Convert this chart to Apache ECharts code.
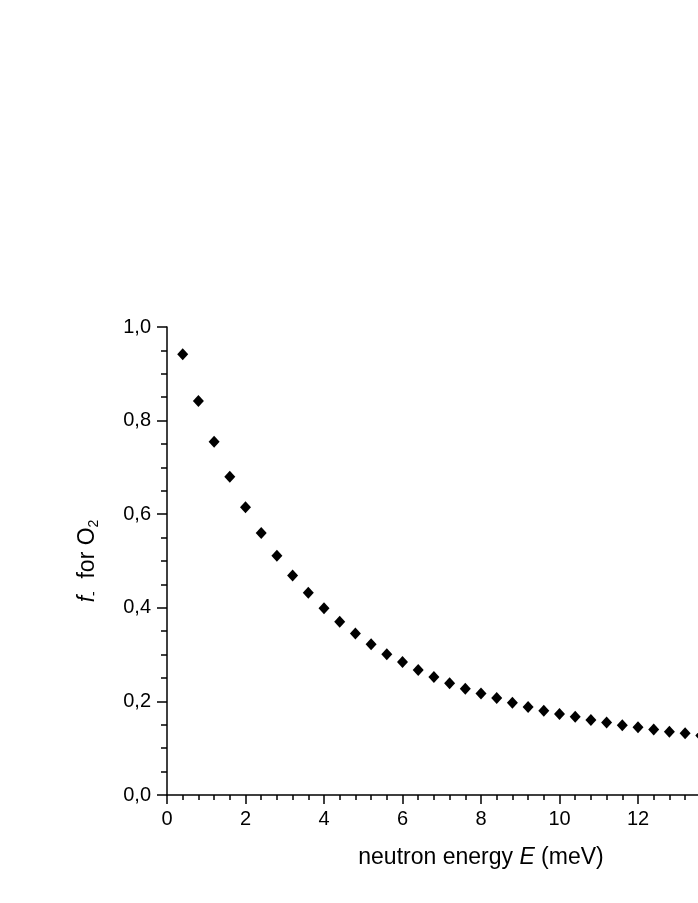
<!DOCTYPE html>
<html>
<head>
<meta charset="utf-8">
<script src="https://cdn.jsdelivr.net/npm/echarts@6/dist/echarts.min.js"></script>
<style>html,body{margin:0;padding:0;background:#fff;}#c{width:698px;height:903px;}</style>
</head>
<body>
<div id="c"></div>
<script>
const energies = [0.4,0.8,1.2,1.6,2.0,2.4,2.8,3.2,3.6,4.0,4.4,4.8,5.2,5.6,6.0,6.4,6.8,7.2,7.6,8.0,8.4,8.8,9.2,9.6,10.0,10.4,10.8,11.2,11.6,12.0,12.4,12.8,13.2,13.6];
const fMinus = [0.942,0.842,0.755,0.680,0.615,0.560,0.511,0.469,0.432,0.399,0.370,0.345,0.322,0.301,0.284,0.267,0.252,0.239,0.227,0.217,0.207,0.197,0.188,0.180,0.173,0.167,0.160,0.155,0.149,0.145,0.140,0.135,0.132,0.127];
const xTicks = [0,2,4,6,8,10,12,14,16];
const yTicks = [0,0.2,0.4,0.6,0.8,1.0];

const chart = echarts.init(document.getElementById('c'), null, {renderer:'canvas'});
const font = 'Liberation Sans, Arial, sans-serif';
chart.setOption({
  animation:false,
  backgroundColor:'#fff',
  grid:{left:167, top:327, width:628, height:468, containLabel:false, outerBoundsMode:'none'},
  xAxis:{
    type:'value', min:0, max:16, interval:2,
    name:'neutron energy {i|E} (meV)',
    nameLocation:'middle', nameGap:51,
    nameTextStyle:{fontFamily:font, fontSize:23, color:'#000',
      rich:{i:{fontStyle:'italic', fontFamily:font, fontSize:23, color:'#000'}}},
    axisLine:{show:true, lineStyle:{color:'#000', width:1.5}},
    axisTick:{show:true, inside:false, length:9, lineStyle:{color:'#000', width:1.5}},
    minorTick:{show:true, splitNumber:5, length:5, lineStyle:{color:'#000', width:1.5}},
    axisLabel:{fontFamily:font, fontSize:20, color:'#000', margin:14},
    splitLine:{show:false}
  },
  yAxis:{
    type:'value', min:0, max:1, interval:0.2,
    name:'{i|f}{sub|-}  for O{sub|2}',
    nameLocation:'middle', nameGap:66, nameRotate:90,
    nameTextStyle:{fontFamily:font, fontSize:23, color:'#000',
      rich:{i:{fontStyle:'italic', fontFamily:font, fontSize:23, color:'#000'},
            sub:{fontFamily:font, fontSize:14, color:'#000', verticalAlign:'bottom', padding:[12,0,0,0]}}},
    axisLine:{show:true, lineStyle:{color:'#000', width:1.5}},
    axisTick:{show:true, inside:false, length:10, lineStyle:{color:'#000', width:1.5}},
    minorTick:{show:true, splitNumber:4, length:6, lineStyle:{color:'#000', width:1.5}},
    axisLabel:{fontFamily:font, fontSize:20, color:'#000', margin:16,
      formatter:v=>v.toFixed(1).replace('.',',')},
    splitLine:{show:false}
  },
  series:[{
    type:'scatter',
    symbol:'diamond',
    symbolSize:[11,12],
    itemStyle:{color:'#000', opacity:1},
    data: energies.map((e,i)=>[e,fMinus[i]])
  }]
});
</script>
</body>
</html>
